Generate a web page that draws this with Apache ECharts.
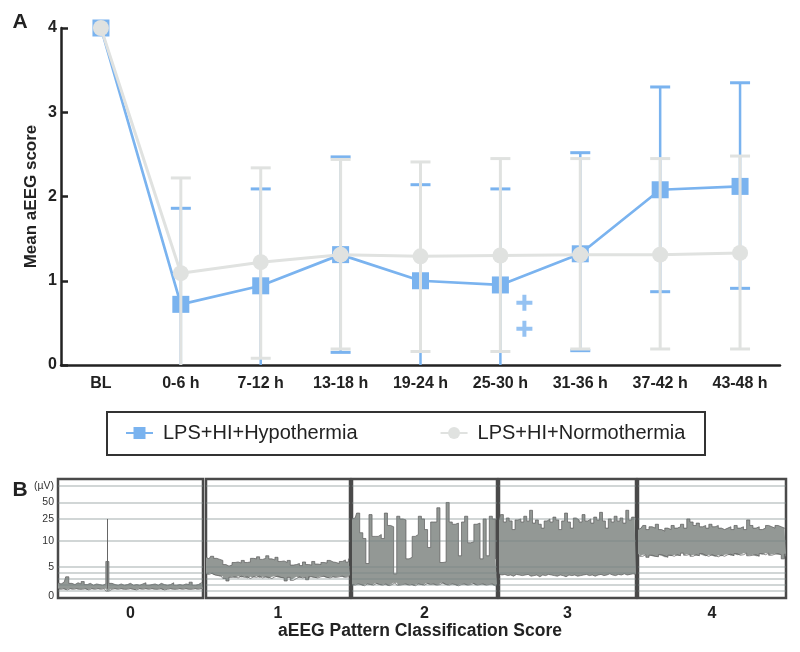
<!DOCTYPE html>
<html><head><meta charset="utf-8">
<script src="https://cdn.jsdelivr.net/npm/echarts@6/dist/echarts.min.js"></script>
<style>html,body{margin:0;padding:0;background:#fff}#c{width:800px;height:652px}</style>
</head><body><div id="c"></div>
<script>
// ---------- Panel A data ----------
const categories = ['BL','0-6 h','7-12 h','13-18 h','19-24 h','25-30 h','31-36 h','37-42 h','43-48 h'];
const hypoMean  = [4, 0.72, 0.94, 1.31, 1.00, 0.95, 1.32, 2.08, 2.12];
const hypoUpper = [null, 1.86, 2.09, 2.47, 2.14, 2.09, 2.52, 3.30, 3.35];
const hypoLower = [null, -0.42, -0.21, 0.15, -0.14, -0.19, 0.17, 0.87, 0.91];
const normoMean  = [4, 1.09, 1.22, 1.31, 1.29, 1.30, 1.31, 1.31, 1.33];
const normoUpper = [null, 2.22, 2.34, 2.44, 2.41, 2.45, 2.45, 2.45, 2.48];
const normoLower = [null, -0.04, 0.08, 0.19, 0.16, 0.16, 0.19, 0.19, 0.19];
const sigCategory = '25-30 h';
const sigValues = [0.74, 0.43];
const seriesNames = ['LPS+HI+Hypothermia', 'LPS+HI+Normothermia'];

// ---------- Panel B data (aEEG envelopes, µV) ----------
const panelLabels = ['0','1','2','3','4'];
const upper0 = [2.3,2.1,2.4,3.3,2.2,2.0,2.3,2.1,2.5,2.0,2.2,1.9,2.1,2.0,1.9,2.1,6.0,2.2,2.0,1.9,2.1,1.9,2.0,2.2,1.9,2.0,1.9,2.1,2.3,1.9,2.0,2.1,1.9,2.2,2.0,1.9,2.0,2.3,1.9,2.0,1.9,2.1,2.0,2.4,1.9,2.0,2.3,2.1];
const lower0 = [1.3,1.2,1.3,1.1,1.3,1.2,1.3,1.2,1.2,1.3,1.1,1.3,1.2,1.3,1.2,1.3,0.9,1.2,1.3,1.2,1.3,1.2,1.2,1.3,1.2,1.1,1.3,1.2,1.3,1.2,1.3,1.2,1.2,1.3,1.1,1.2,1.3,1.2,1.2,1.3,1.2,1.3,1.2,1.2,1.3,1.2,1.3,1.2];
const spike0 = {index: 16, bottom: 1.3, top: 25};
const upper1 = [6.8,6.5,7.0,6.6,6.4,6.2,5.4,5.1,5.3,5.8,5.9,5.7,6.2,5.8,5.9,6.6,6.5,6.9,6.4,6.6,7.1,6.5,6.3,6.8,6.0,6.1,5.8,6.2,5.3,5.4,5.6,5.2,5.9,5.4,5.3,6.0,5.5,5.4,5.8,5.7,6.2,5.9,5.8,5.6,6.0,6.3,5.9,6.5];
const lower1 = [3.8,3.7,3.9,3.6,3.5,3.4,3.0,2.6,3.2,3.3,3.1,3.4,3.2,3.3,3.0,3.3,3.2,3.4,3.1,3.3,3.2,3.0,3.3,3.4,3.2,3.1,2.6,3.2,2.7,3.0,3.3,3.1,3.2,2.8,3.3,3.2,3.1,3.3,3.4,3.2,3.1,3.3,3.2,3.3,3.4,3.2,3.3,3.5];
const upper2 = [25,26,32,14,11,5.6,30,12,12,13,11,32,19,18,3.8,28,25,24,6.5,6.8,12,13,28,25,16,8.7,22,22,40,5.8,5.9,50,22,20,21,7.1,22,28,9.6,9.8,20,21,6.5,25,7.1,28,25,6.5];
const lower2 = [2.0,1.9,2.1,2.0,1.8,2.1,2.0,1.9,2.2,2.0,1.9,2.1,1.8,2.0,2.3,1.9,2.0,2.1,1.9,2.0,1.8,2.1,2.0,1.9,2.2,2.0,2.1,1.9,2.0,2.3,2.0,1.9,2.1,2.0,1.8,2.0,2.1,1.9,2.0,2.2,1.9,2.0,2.1,1.9,2.0,2.1,1.8,2.0];
const upper3 = [24,30,22,26,23,16,24,25,22,28,23,36,21,24,20,17,23,25,22,27,24,16,23,32,22,17,26,24,22,30,23,25,21,27,24,33,23,17,25,22,28,23,26,21,36,24,27,25];
const lower3 = [3.8,3.6,3.7,3.5,3.6,3.4,3.7,3.6,3.5,3.6,3.7,3.4,3.5,3.6,3.3,3.6,3.5,3.7,3.6,3.5,3.4,3.6,3.5,3.3,3.6,3.5,3.6,3.4,3.5,3.6,3.7,3.5,3.6,3.4,3.6,3.7,3.5,3.6,3.8,3.6,3.5,3.7,3.6,3.8,3.6,3.7,3.8,3.7];
const upper4 = [16,17,19,16,18,17,20,16,15,17,16,19,17,18,20,17,25,22,19,21,18,19,17,20,18,19,17,16,17,18,16,19,17,18,16,24,19,17,18,16,17,19,18,17,19,18,17,18];
const lower4 = [7.4,7.0,7.3,6.8,7.2,7.0,6.9,7.3,7.1,6.8,7.2,7.0,7.3,7.1,7.6,7.2,7.4,7.0,7.3,7.1,7.5,7.2,7.0,7.3,7.1,6.9,7.2,7.0,7.3,7.4,7.1,7.5,7.2,7.3,7.6,7.1,7.2,7.3,7.0,7.5,7.3,7.6,7.2,7.4,7.5,7.3,6.5,7.4];
const gridLinesUV = [1,2,3,4,5,10,25,50,100];
const yLabelUV = [0,5,10,25,50,100];
const yLabelText = ['0','5','10','25','50','(\u00b5V)'];

// aEEG semi-logarithmic display scale (linear below 10 µV, log above)
function aeeg(v){ if (v <= 5) return 6*v; if (v <= 10) return 30 + 5.2*(v-5); return 56 + 55*Math.log10(v/10); }

const BLUE = '#7ab3ef', GRAY = '#e0e2e0', INK = '#222';
const FONT = "Arial, 'Liberation Sans', sans-serif";

function errRender(color, lw, capW){
  return function(params, api){
    const x = api.value(0), lo = api.value(1), hi = api.value(2);
    const pHi = api.coord([x, hi]);
    const pLo = api.coord([x, Math.max(lo, 0)]);
    const h = capW/2;
    const ch = [
      {type:'line', shape:{x1:pLo[0],y1:pLo[1],x2:pHi[0],y2:pHi[1]}, style:{stroke:color,lineWidth:lw}},
      {type:'line', shape:{x1:pHi[0]-h,y1:pHi[1],x2:pHi[0]+h,y2:pHi[1]}, style:{stroke:color,lineWidth:3}}
    ];
    if (lo >= 0) ch.push({type:'line', shape:{x1:pLo[0]-h,y1:pLo[1],x2:pLo[0]+h,y2:pLo[1]}, style:{stroke:color,lineWidth:3}});
    return {type:'group', children: ch};
  };
}
function errData(lo, hi){ const d=[]; for(let i=0;i<lo.length;i++){ if(lo[i]!==null) d.push([i, lo[i], hi[i]]);} return d; }

const chart = echarts.init(document.getElementById('c'), null, {renderer:'canvas'});

const grids = [{left:61, top:28, width:719, height:337}];
const xAxes = [{
  gridIndex:0, type:'category', data:categories, boundaryGap:true,
  axisLine:{lineStyle:{color:INK, width:2.5}},
  axisTick:{alignWithLabel:true, length:6, lineStyle:{color:INK, width:2.5}},
  axisLabel:{fontSize:16, fontWeight:'bold', color:INK, margin:11, fontFamily:FONT}
}];
const yAxes = [{
  gridIndex:0, type:'value', min:0, max:4, interval:1,
  axisLine:{show:true, lineStyle:{color:INK, width:2.5}},
  axisTick:{show:true, inside:true, length:7, lineStyle:{color:INK, width:2.5}},
  axisLabel:{fontSize:16, fontWeight:'bold', color:INK, margin:4, fontFamily:FONT},
  splitLine:{show:false},
  name:'Mean aEEG score', nameLocation:'middle', nameGap:21, nameMoveOverlap:false,
  nameTextStyle:{fontSize:17, fontWeight:'bold', color:INK, fontFamily:FONT}
}];
const series = [
  {type:'custom', name:'hypoErr', xAxisIndex:0, yAxisIndex:0, renderItem:errRender(BLUE,2.5,20), data:errData(hypoLower, hypoUpper), encode:{x:0,y:[1,2]}, silent:true, z:2},
  {type:'line', name:seriesNames[0], xAxisIndex:0, yAxisIndex:0, data:hypoMean, symbol:'rect', symbolSize:17,
   lineStyle:{color:BLUE, width:2.7}, itemStyle:{color:BLUE}, z:3},
  {type:'custom', name:'normoErr', xAxisIndex:0, yAxisIndex:0, renderItem:errRender(GRAY,3,20), data:errData(normoLower, normoUpper), encode:{x:0,y:[1,2]}, silent:true, z:4},
  {type:'line', name:seriesNames[1], xAxisIndex:0, yAxisIndex:0, data:normoMean, symbol:'circle', symbolSize:16,
   lineStyle:{color:GRAY, width:3}, itemStyle:{color:GRAY}, z:5},
  {type:'scatter', name:'sig', xAxisIndex:0, yAxisIndex:0, data:sigValues.map(v=>[sigCategory, v]),
   symbol:'path://M6,0h4v6h6v4h-6v6h-4v-6h-6v-4h6z', symbolSize:16, symbolOffset:[24,0], itemStyle:{color:BLUE}, z:6, silent:true}
];

// Panel B
const panels = [
  {up:upper0, lo:lower0, left:58, width:145},
  {up:upper1, lo:lower1, left:206, width:144},
  {up:upper2, lo:lower2, left:352, width:145},
  {up:upper3, lo:lower3, left:499, width:137},
  {up:upper4, lo:lower4, left:638, width:148}
];
panels.forEach((p, k) => {
  const gi = k + 1;
  grids.push({left:p.left, top:479, width:p.width, height:119, show:true, borderColor:'#4a4a4a', borderWidth:2.5, backgroundColor:'#fff'});
  const idx = p.up.map((_, i) => String(i));
  xAxes.push({gridIndex:gi, type:'category', data:idx, boundaryGap:false,
    axisLine:{show:false}, axisTick:{show:false}, axisLabel:{show:false}, splitLine:{show:false},
    name:panelLabels[k], nameLocation:'middle', nameGap:8,
    nameTextStyle:{fontSize:16, fontWeight:'bold', color:INK, fontFamily:FONT}});
  yAxes.push({gridIndex:gi, type:'value', min:-1.5, max:118,
    axisLine:{show:false}, axisTick:{show:false}, splitLine:{show:false},
    axisLabel: k === 0 ? {show:true, customValues:yLabelUV.map(aeeg), margin:4, fontSize:10.5, color:'#333', fontFamily:FONT,
       formatter:(v)=>{ const j = yLabelUV.map(aeeg).findIndex(t=>Math.abs(t-v)<0.01); return j>=0 ? yLabelText[j] : ''; }}
     : {show:false}});
  const loT = p.lo.map(aeeg), upT = p.up.map(aeeg);
  series.push({type:'line', xAxisIndex:gi, yAxisIndex:gi, data:loT, stack:'band'+k, step:'middle', symbol:'none',
    lineStyle:{opacity:0}, silent:true, z:2});
  series.push({type:'line', xAxisIndex:gi, yAxisIndex:gi, data:upT.map((u,i)=>u-loT[i]), stack:'band'+k, step:'middle', symbol:'none',
    lineStyle:{opacity:0}, areaStyle:{color:'#939895', opacity:1}, silent:true, z:2});
  const ml = gridLinesUV.map(v => ({yAxis:aeeg(v)}));
  if (k === 0) ml.push([{coord:[spike0.index, aeeg(spike0.bottom)], lineStyle:{color:'#666', width:1, type:'solid'}},
                        {coord:[spike0.index, aeeg(spike0.top)]}]);
  series.push({type:'line', xAxisIndex:gi, yAxisIndex:gi, data:upT, step:'middle', symbol:'none',
    lineStyle:{color:'#5a5a5a', width:0.7}, silent:true, z:3,
    markLine:{silent:true, symbol:'none', label:{show:false}, animation:false,
      lineStyle:{color:'rgba(120,135,135,0.45)', width:1.5, type:'solid'}, data:ml}});
  series.push({type:'line', xAxisIndex:gi, yAxisIndex:gi, data:loT, step:'middle', symbol:'none',
    lineStyle:{color:'#5a5a5a', width:0.7}, silent:true, z:3});
});

chart.setOption({
  animation:false,
  backgroundColor:'#fff',
  textStyle:{fontFamily:FONT},
  grid:grids, xAxis:xAxes, yAxis:yAxes, series:series,
  legend:{data:seriesNames, left:125, top:423, padding:0, itemGap:82, itemWidth:27, itemHeight:15,
    textStyle:{fontSize:20, color:INK, fontFamily:FONT, padding:[0,0,0,5]}, selectedMode:false},
  graphic:[
    {type:'rect', shape:{x:107, y:412, width:598, height:43}, style:{fill:'none', stroke:'#333', lineWidth:2}, z:10, silent:true},
    {type:'text', x:20, y:22, style:{text:'A', font:'bold 21px '+FONT, fill:INK, textAlign:'center', textVerticalAlign:'middle'}},
    {type:'text', x:20, y:490, style:{text:'B', font:'bold 21px '+FONT, fill:INK, textAlign:'center', textVerticalAlign:'middle'}},
    {type:'text', x:420, y:631, style:{text:'aEEG Pattern Classification Score', font:'bold 17.5px '+FONT, fill:INK, textAlign:'center', textVerticalAlign:'middle'}}
  ]
});
</script></body></html>
